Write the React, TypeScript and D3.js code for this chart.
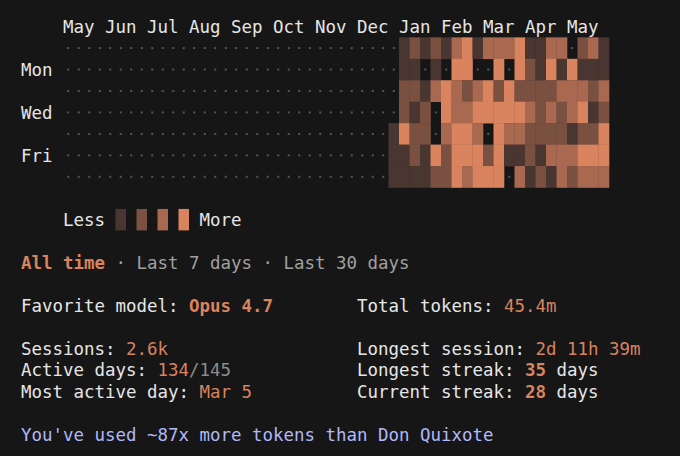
import React from 'react';
import * as d3 from 'd3';

// terminal grid metrics (monospace cell)
const CELL_W = 10.5;
const LINE_H = 21.45;
const TOP = 15.9;
const FONT_SIZE = 17.44;
const FONT = '"DejaVu Sans Mono", "Liberation Mono", monospace';

const BG = '#161616';
const ORANGE = '#d9835f';
const WHITE = '#e6e6e6';
const GRAY = '#a0a0a0';
const DOT = '#565656';
const PURPLE = '#b1b9f9';

const monthLabels = ['May', 'Jun', 'Jul', 'Aug', 'Sep', 'Oct', 'Nov', 'Dec', 'Jan', 'Feb', 'Mar', 'Apr', 'May'];
const dayLabels = ['', 'Mon', '', 'Wed', '', 'Fri', ''];

const totalWeeks = 52;
const firstDataWeek = 31;

// activity level per day (0 = none, 1..4), weeks 31..51, null = before tracking
const sunLevels = [null, 1, 2, 1, 2, 1, 3, 4, 1, 3, 3, 3, 4, 1, 1, 3, 3, 0, 2, 3, 1];
const monLevels = [null, 1, 1, 0, 1, 0, 4, 4, 0, 0, 4, 0, 4, 2, 1, 4, 1, 4, 1, 1, 1];
const tueLevels = [null, 2, 2, 1, 3, 4, 3, 2, 3, 4, 2, 4, 2, 2, 2, 2, 3, 3, 3, 2, 3];
const wedLevels = [null, 2, 1, 2, 0, 4, 3, 3, 4, 4, 4, 4, 4, 3, 2, 3, 2, 3, 4, 1, 2];
const thuLevels = [1, 4, 2, 2, 0, 3, 4, 4, 3, 0, 4, 3, 3, 2, 2, 2, 2, 1, 2, 2, 4];
const friLevels = [1, 1, 2, 1, 4, 2, 4, 4, 4, 2, 4, 1, 1, 2, 1, 3, 3, 3, 4, 4, 4];
const satLevels = [1, 1, 1, 1, 2, 2, 4, 3, 4, 4, 4, 0, 3, 1, 2, 1, 3, 2, 3, 3, 3];
const dayRows = [sunLevels, monLevels, tueLevels, wedLevels, thuLevels, friLevels, satLevels];

const legendLevels = [1, 2, 3, 4];
const levelColors = ['#4a3630', '#7a5040', '#a96850', ORANGE];

type Seg = { t: string; c: string; b?: boolean };

const lineCenter = (i: number) => TOP + LINE_H * (i + 0.5);
const colX = (c: number) => c * CELL_W;

function Line({ col, line, segs }: { col: number; line: number; segs: Seg[] }) {
  return (
    <text
      x={colX(col)}
      y={lineCenter(line) + 6.5}
      fontFamily={FONT}
      fontSize={FONT_SIZE}
      style={{ whiteSpace: 'pre' }}
    >
      {segs.map((s, i) => (
        <tspan key={i} fill={s.c} fontWeight={s.b ? 'bold' : 'normal'}>
          {s.t}
        </tspan>
      ))}
    </text>
  );
}

export default function App() {
  const width = 680;
  const height = 456;
  const gridCol = 6;

  const x = d3
    .scaleBand<number>()
    .domain(d3.range(totalWeeks))
    .range([colX(gridCol), colX(gridCol + totalWeeks)]);
  const y = d3
    .scaleBand<number>()
    .domain(d3.range(7))
    .range([TOP + LINE_H, TOP + 8 * LINE_H]);
  const color = d3.scaleOrdinal<number, string>().domain(legendLevels).range(levelColors);

  const cells: { w: number; d: number; v: number | null }[] = [];
  for (let w = 0; w < totalWeeks; w++) {
    for (let d = 0; d < 7; d++) {
      const v = w >= firstDataWeek ? dayRows[d][w - firstDataWeek] : null;
      cells.push({ w, d, v });
    }
  }

  return (
    <div style={{ position: 'fixed', left: 0, top: 0 }}>
      <svg width={width} height={height} style={{ display: 'block' }}>
        <rect width={width} height={height} fill={BG} />

        {/* month header */}
        {monthLabels.map((m, i) => (
          <Line key={i} col={gridCol + i * 4} line={0} segs={[{ t: m, c: WHITE }]} />
        ))}

        {/* weekday labels */}
        {dayLabels.map((d, i) =>
          d ? <Line key={i} col={2} line={i + 1} segs={[{ t: d, c: WHITE }]} /> : null
        )}

        {/* heatmap */}
        <g>
          {cells.map((c, i) =>
            c.v ? (
              <rect
                key={i}
                x={x(c.w)}
                y={y(c.d)}
                width={x.bandwidth() + 0.3}
                height={y.bandwidth() + 0.3}
                fill={color(c.v)}
              />
            ) : (
              <rect
                key={i}
                x={(x(c.w) as number) + x.bandwidth() / 2 - 1}
                y={(y(c.d) as number) + y.bandwidth() / 2 - 1}
                width={2}
                height={2}
                fill={DOT}
              />
            )
          )}
        </g>

        {/* legend */}
        <Line col={gridCol} line={9} segs={[{ t: 'Less', c: WHITE }]} />
        {legendLevels.map((l, i) => (
          <rect
            key={l}
            x={colX(gridCol + 5 + i * 2)}
            y={lineCenter(9) - LINE_H / 2}
            width={CELL_W}
            height={LINE_H}
            fill={color(l)}
          />
        ))}
        <Line col={gridCol + 13} line={9} segs={[{ t: 'More', c: WHITE }]} />

        {/* range tabs */}
        <Line
          col={2}
          line={11}
          segs={[
            { t: 'All time', c: ORANGE, b: true },
            { t: ' · Last 7 days · Last 30 days', c: GRAY },
          ]}
        />

        {/* stats */}
        <Line col={2} line={13} segs={[{ t: 'Favorite model: ', c: WHITE }, { t: 'Opus 4.7', c: ORANGE, b: true }]} />
        <Line col={34} line={13} segs={[{ t: 'Total tokens: ', c: WHITE }, { t: '45.4m', c: ORANGE }]} />

        <Line col={2} line={15} segs={[{ t: 'Sessions: ', c: WHITE }, { t: '2.6k', c: ORANGE }]} />
        <Line col={34} line={15} segs={[{ t: 'Longest session: ', c: WHITE }, { t: '2d 11h 39m', c: ORANGE }]} />

        <Line
          col={2}
          line={16}
          segs={[{ t: 'Active days: ', c: WHITE }, { t: '134', c: ORANGE }, { t: '/145', c: '#8c8c8c' }]}
        />
        <Line
          col={34}
          line={16}
          segs={[{ t: 'Longest streak: ', c: WHITE }, { t: '35', c: ORANGE, b: true }, { t: ' days', c: WHITE }]}
        />

        <Line col={2} line={17} segs={[{ t: 'Most active day: ', c: WHITE }, { t: 'Mar 5', c: ORANGE }]} />
        <Line
          col={34}
          line={17}
          segs={[{ t: 'Current streak: ', c: WHITE }, { t: '28', c: ORANGE, b: true }, { t: ' days', c: WHITE }]}
        />

        <Line col={2} line={19} segs={[{ t: "You've used ~87x more tokens than Don Quixote", c: PURPLE }]} />
      </svg>
    </div>
  );
}
